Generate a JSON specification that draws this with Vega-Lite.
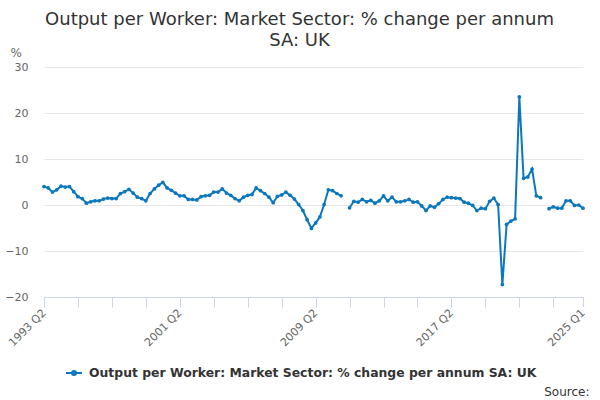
{
  "$schema": "https://vega.github.io/schema/vega-lite/v6.json",
  "description": "Output per Worker: Market Sector, % change per annum, SA, UK",
  "autosize": "none",
  "padding": {"left": 44, "top": 67, "right": 17, "bottom": 103},
  "width": 539,
  "height": 230,
  "title": {
    "text": ["Output per Worker: Market Sector: % change per annum", "SA: UK"],
    "fontSize": 18,
    "fontWeight": "normal",
    "color": "#333333",
    "lineHeight": 21,
    "anchor": "middle",
    "dx": -14,
    "offset": -4
  },
  "data": {
    "values": [
      {"quarter": "1993 Q2", "value": 4.0},
      {"quarter": "1993 Q3", "value": 3.7},
      {"quarter": "1993 Q4", "value": 2.8},
      {"quarter": "1994 Q1", "value": 3.3},
      {"quarter": "1994 Q2", "value": 4.1},
      {"quarter": "1994 Q3", "value": 3.9},
      {"quarter": "1994 Q4", "value": 4.0},
      {"quarter": "1995 Q1", "value": 2.9},
      {"quarter": "1995 Q2", "value": 1.8},
      {"quarter": "1995 Q3", "value": 1.4},
      {"quarter": "1995 Q4", "value": 0.4},
      {"quarter": "1996 Q1", "value": 0.7},
      {"quarter": "1996 Q2", "value": 0.9},
      {"quarter": "1996 Q3", "value": 0.9},
      {"quarter": "1996 Q4", "value": 1.3},
      {"quarter": "1997 Q1", "value": 1.5},
      {"quarter": "1997 Q2", "value": 1.4},
      {"quarter": "1997 Q3", "value": 1.4},
      {"quarter": "1997 Q4", "value": 2.5},
      {"quarter": "1998 Q1", "value": 2.9},
      {"quarter": "1998 Q2", "value": 3.4},
      {"quarter": "1998 Q3", "value": 2.6},
      {"quarter": "1998 Q4", "value": 1.7},
      {"quarter": "1999 Q1", "value": 1.4},
      {"quarter": "1999 Q2", "value": 0.9},
      {"quarter": "1999 Q3", "value": 2.5},
      {"quarter": "1999 Q4", "value": 3.5},
      {"quarter": "2000 Q1", "value": 4.3},
      {"quarter": "2000 Q2", "value": 4.9},
      {"quarter": "2000 Q3", "value": 3.7},
      {"quarter": "2000 Q4", "value": 3.2},
      {"quarter": "2001 Q1", "value": 2.6},
      {"quarter": "2001 Q2", "value": 2.0},
      {"quarter": "2001 Q3", "value": 2.0},
      {"quarter": "2001 Q4", "value": 1.2},
      {"quarter": "2002 Q1", "value": 1.2},
      {"quarter": "2002 Q2", "value": 1.1},
      {"quarter": "2002 Q3", "value": 1.8},
      {"quarter": "2002 Q4", "value": 2.0},
      {"quarter": "2003 Q1", "value": 2.1},
      {"quarter": "2003 Q2", "value": 2.8},
      {"quarter": "2003 Q3", "value": 2.8},
      {"quarter": "2003 Q4", "value": 3.5},
      {"quarter": "2004 Q1", "value": 2.6},
      {"quarter": "2004 Q2", "value": 2.1},
      {"quarter": "2004 Q3", "value": 1.4},
      {"quarter": "2004 Q4", "value": 0.9},
      {"quarter": "2005 Q1", "value": 1.7},
      {"quarter": "2005 Q2", "value": 2.1},
      {"quarter": "2005 Q3", "value": 2.3},
      {"quarter": "2005 Q4", "value": 3.7},
      {"quarter": "2006 Q1", "value": 3.1},
      {"quarter": "2006 Q2", "value": 2.5},
      {"quarter": "2006 Q3", "value": 1.7},
      {"quarter": "2006 Q4", "value": 0.5},
      {"quarter": "2007 Q1", "value": 1.9},
      {"quarter": "2007 Q2", "value": 2.2},
      {"quarter": "2007 Q3", "value": 2.8},
      {"quarter": "2007 Q4", "value": 2.1},
      {"quarter": "2008 Q1", "value": 1.3},
      {"quarter": "2008 Q2", "value": 0.1},
      {"quarter": "2008 Q3", "value": -1.2},
      {"quarter": "2008 Q4", "value": -3.2},
      {"quarter": "2009 Q1", "value": -5.1},
      {"quarter": "2009 Q2", "value": -3.9},
      {"quarter": "2009 Q3", "value": -2.6},
      {"quarter": "2009 Q4", "value": 0.1},
      {"quarter": "2010 Q1", "value": 3.3},
      {"quarter": "2010 Q2", "value": 3.1},
      {"quarter": "2010 Q3", "value": 2.5},
      {"quarter": "2010 Q4", "value": 2.0},
      {"quarter": "2011 Q1", "value": null},
      {"quarter": "2011 Q2", "value": -0.6},
      {"quarter": "2011 Q3", "value": 0.8},
      {"quarter": "2011 Q4", "value": 0.6},
      {"quarter": "2012 Q1", "value": 1.2},
      {"quarter": "2012 Q2", "value": 0.7},
      {"quarter": "2012 Q3", "value": 1.0},
      {"quarter": "2012 Q4", "value": 0.4},
      {"quarter": "2013 Q1", "value": 0.9},
      {"quarter": "2013 Q2", "value": 2.0},
      {"quarter": "2013 Q3", "value": 0.9},
      {"quarter": "2013 Q4", "value": 1.7},
      {"quarter": "2014 Q1", "value": 0.7},
      {"quarter": "2014 Q2", "value": 0.7},
      {"quarter": "2014 Q3", "value": 0.9},
      {"quarter": "2014 Q4", "value": 1.2},
      {"quarter": "2015 Q1", "value": 0.6},
      {"quarter": "2015 Q2", "value": 0.7},
      {"quarter": "2015 Q3", "value": -0.2},
      {"quarter": "2015 Q4", "value": -1.2},
      {"quarter": "2016 Q1", "value": -0.2},
      {"quarter": "2016 Q2", "value": -0.5},
      {"quarter": "2016 Q3", "value": 0.3},
      {"quarter": "2016 Q4", "value": 1.2},
      {"quarter": "2017 Q1", "value": 1.7},
      {"quarter": "2017 Q2", "value": 1.6},
      {"quarter": "2017 Q3", "value": 1.5},
      {"quarter": "2017 Q4", "value": 1.4},
      {"quarter": "2018 Q1", "value": 0.6},
      {"quarter": "2018 Q2", "value": 0.4},
      {"quarter": "2018 Q3", "value": -0.1},
      {"quarter": "2018 Q4", "value": -1.2},
      {"quarter": "2019 Q1", "value": -0.7},
      {"quarter": "2019 Q2", "value": -0.8},
      {"quarter": "2019 Q3", "value": 0.8},
      {"quarter": "2019 Q4", "value": 1.5},
      {"quarter": "2020 Q1", "value": 0.1},
      {"quarter": "2020 Q2", "value": -17.3},
      {"quarter": "2020 Q3", "value": -4.2},
      {"quarter": "2020 Q4", "value": -3.5},
      {"quarter": "2021 Q1", "value": -3.0},
      {"quarter": "2021 Q2", "value": 23.5},
      {"quarter": "2021 Q3", "value": 5.8},
      {"quarter": "2021 Q4", "value": 6.1},
      {"quarter": "2022 Q1", "value": 7.8},
      {"quarter": "2022 Q2", "value": 2.0},
      {"quarter": "2022 Q3", "value": 1.6},
      {"quarter": "2022 Q4", "value": null},
      {"quarter": "2023 Q1", "value": -0.8},
      {"quarter": "2023 Q2", "value": -0.4},
      {"quarter": "2023 Q3", "value": -0.7},
      {"quarter": "2023 Q4", "value": -0.7},
      {"quarter": "2024 Q1", "value": 0.9},
      {"quarter": "2024 Q2", "value": 0.9},
      {"quarter": "2024 Q3", "value": -0.1},
      {"quarter": "2024 Q4", "value": 0.0},
      {"quarter": "2025 Q1", "value": -0.7}
    ]
  },
  "mark": {
    "type": "line",
    "strokeWidth": 2,
    "invalid": "break-paths-show-domains",
    "point": {"size": 14, "filled": true}
  },
  "encoding": {
    "x": {
      "field": "quarter",
      "type": "ordinal",
      "sort": null,
      "scale": {"type": "point", "padding": 0},
      "axis": {
        "title": "Source:",
        "titleAnchor": "end",
        "titleAlign": "right",
        "titleX": 545,
        "titleY": 89,
        "titleFontSize": 12,
        "titleFontWeight": "normal",
        "titleColor": "#333333",
        "values": ["1993 Q2", "1995 Q2", "1997 Q2", "1999 Q2", "2001 Q2", "2003 Q2", "2005 Q2", "2007 Q2", "2009 Q2", "2011 Q2", "2013 Q2", "2015 Q2", "2017 Q2", "2019 Q2", "2021 Q2", "2023 Q2", "2025 Q1"],
        "labelExpr": "indexof(['1993 Q2', '2001 Q2', '2009 Q2', '2017 Q2', '2025 Q1'], datum.value) >= 0 ? datum.value : ''",
        "labelAngle": 315,
        "labelAlign": "right",
        "labelBaseline": "middle",
        "labelFontSize": 11,
        "labelColor": "#666666",
        "labelPadding": 4,
        "labelOverlap": false,
        "domainColor": "#ccd6eb",
        "tickColor": "#ccd6eb",
        "tickSize": 10,
        "grid": false
      }
    },
    "y": {
      "field": "value",
      "type": "quantitative",
      "scale": {"domain": [-20, 30], "nice": false},
      "axis": {
        "title": "%",
        "titleAngle": 0,
        "titleAlign": "left",
        "titleBaseline": "alphabetic",
        "titleX": -34,
        "titleY": -11,
        "titleFontSize": 12,
        "titleFontWeight": "normal",
        "titleColor": "#666666",
        "values": [-20, -10, 0, 10, 20, 30],
        "labelFontSize": 11,
        "labelColor": "#666666",
        "labelPadding": 16,
        "domain": false,
        "ticks": false,
        "gridColor": "#e6e6e6"
      }
    },
    "color": {
      "datum": "Output per Worker: Market Sector: % change per annum SA: UK",
      "type": "nominal",
      "scale": {"range": ["#0b77bd"]},
      "legend": {
        "title": null,
        "orient": "none",
        "legendX": 21,
        "legendY": 297,
        "symbolType": "M-1,0H1M-0.25,0A0.25,0.25 0 1,0 0.25,0A0.25,0.25 0 1,0 -0.25,0",
        "symbolSize": 256,
        "symbolStrokeWidth": 2,
        "symbolFillColor": "#0b77bd",
        "labelFontSize": 12.4,
        "labelFontWeight": "bold",
        "labelColor": "#333333",
        "labelOffset": 6,
        "labelLimit": 600
      }
    }
  },
  "config": {
    "font": "DejaVu Sans",
    "view": {"stroke": null}
  }
}
